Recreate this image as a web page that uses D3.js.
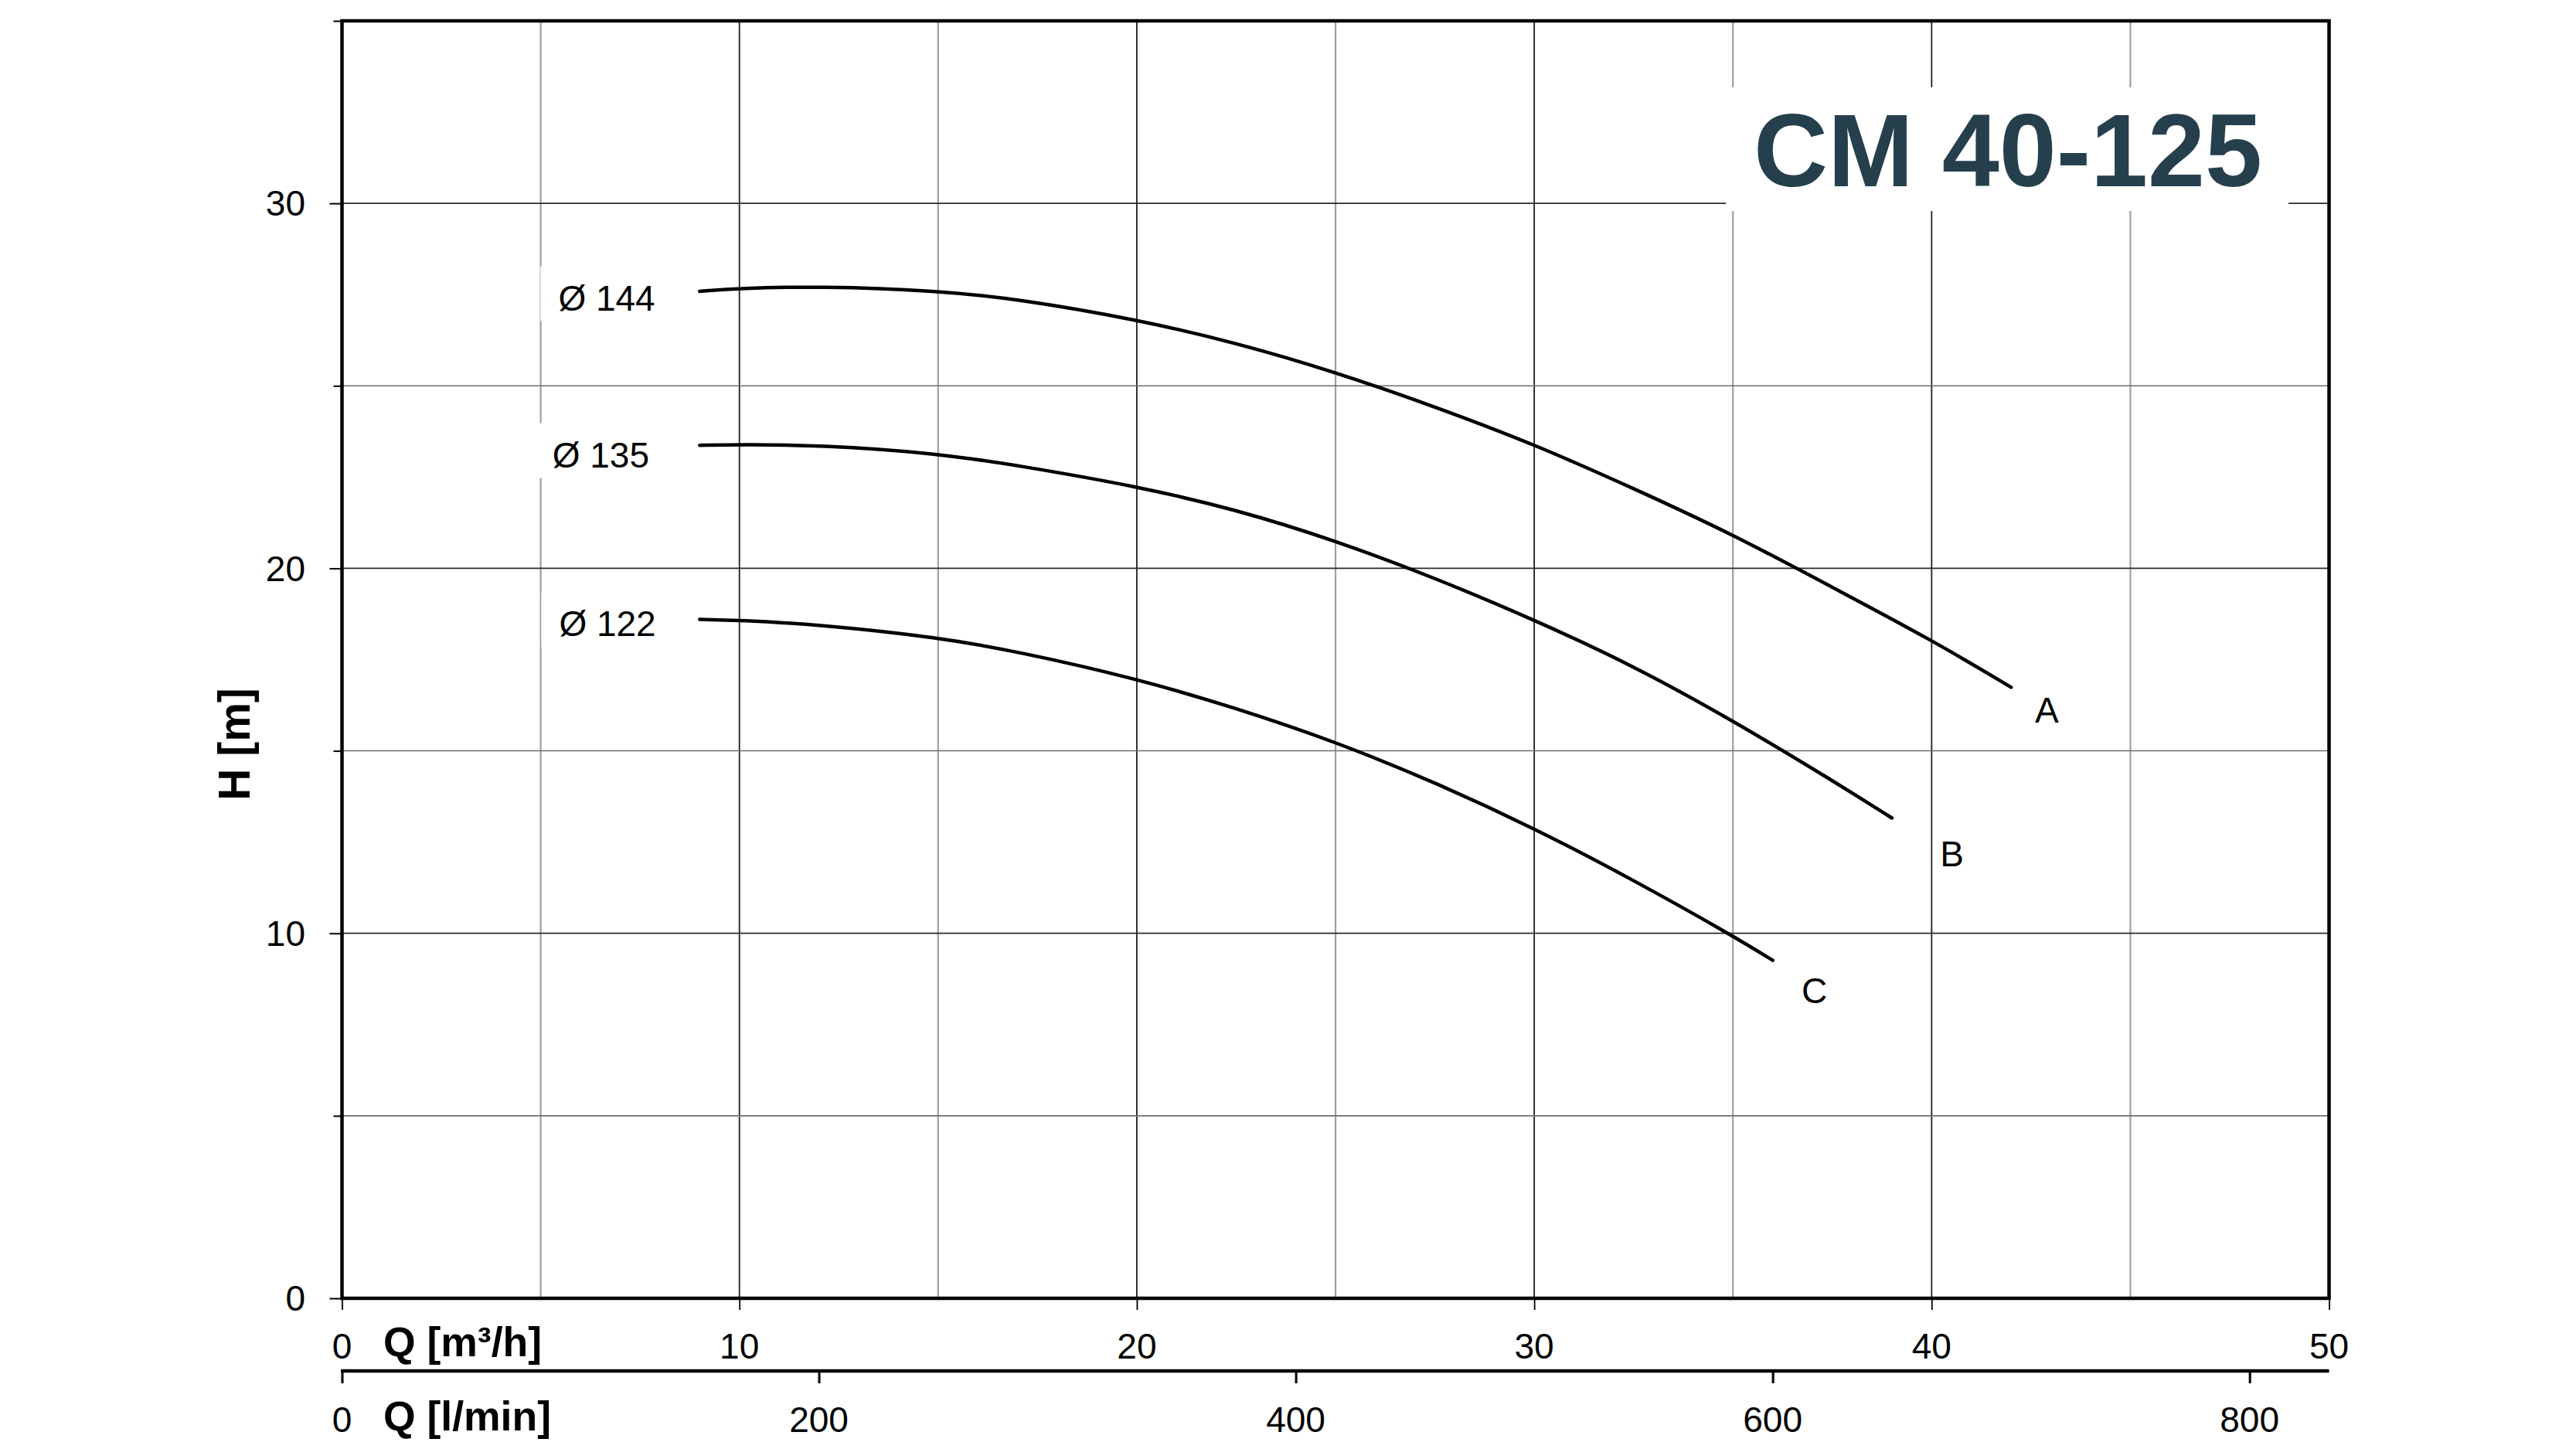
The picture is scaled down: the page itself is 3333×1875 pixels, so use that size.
<!DOCTYPE html>
<html><head><meta charset="utf-8">
<script src="https://cdn.jsdelivr.net/npm/d3@7"></script>
<style>html,body{margin:0;padding:0;background:#fff;} svg{display:block;}</style>
</head><body>
<svg id="chart" width="3333" height="1875"></svg>
<script>
// ---------- data ----------
const title = "CM 40-125";
const yLabel = "H [m]";
const xLabel = "Q [m³/h]";
const x2Label = "Q [l/min]";

const yTicks = [0, 5, 10, 15, 20, 25, 30, 35];
const yTickLabels = [0, 10, 20, 30];
const xTicks = [0, 5, 10, 15, 20, 25, 30, 35, 40, 45, 50];
const xTickLabels = [0, 10, 20, 30, 40, 50];
const lpmTicks = [0, 200, 400, 600, 800];

const curveNames = ["A", "B", "C"];
const diameters = ["Ø 144", "Ø 135", "Ø 122"];

// Q [m3/h] and H [m]
const qA = [9, 10, 12, 15, 17, 20, 22.5, 25, 27.5, 30, 32.5, 35, 37.5, 40, 42];
const hA = [27.59, 27.67, 27.73, 27.61, 27.38, 26.82, 26.18, 25.38, 24.43, 23.40, 22.19, 20.93, 19.48, 18.04, 16.74];
const qB = [9, 10, 12, 15, 17, 20, 22.5, 25, 27.5, 30, 32.5, 35, 37.5, 39];
const hB = [23.37, 23.39, 23.38, 23.15, 22.82, 22.25, 21.61, 20.76, 19.74, 18.59, 17.33, 15.83, 14.19, 13.16];
const qC = [9, 10, 12, 15, 17, 20, 22.5, 25, 27.5, 30, 32.5, 35, 36];
const hC = [18.60, 18.58, 18.46, 18.11, 17.72, 16.98, 16.17, 15.25, 14.14, 12.88, 11.46, 9.93, 9.26];

// annotation anchors (data units)
const diaLabelQ = [7.88, 7.73, 7.90];
const diaLabelH = [27.07, 22.77, 18.14];
const endLabelQ = [42.90, 40.51, 37.05];
const endLabelH = [15.78, 11.84, 8.08];

// ---------- layout ----------
const W = 3333, H = 1875;
const pLeft = 442.5, pRight = 3013.5, pTop = 27, pBottom = 1680;
const FONT = "'Liberation Sans', Arial, Helvetica, sans-serif";

const x = d3.scaleLinear().domain([0, 50]).range([pLeft, pRight]);
const y = d3.scaleLinear().domain([0, 35]).range([pBottom, pTop]);
const xl = d3.scaleLinear().domain([0, 50 * 1000 / 60]).range([pLeft, pRight]);

const svg = d3.select("#chart");
svg.append("rect").attr("width", W).attr("height", H).attr("fill", "#fff");

// ---------- grid ----------
const grid = svg.append("g");
grid.selectAll("line.vx").data(xTicks.slice(1, -1)).enter().append("line")
  .attr("x1", d => x(d)).attr("x2", d => x(d)).attr("y1", pTop).attr("y2", pBottom)
  .attr("stroke", d => d % 10 === 0 ? "#1e1e1e" : "#a0a0a0")
  .attr("stroke-width", d => d % 10 === 0 ? 1.8 : 2.2);
grid.selectAll("line.hy").data(yTicks.slice(1, -1)).enter().append("line")
  .attr("x1", pLeft).attr("x2", pRight).attr("y1", d => y(d)).attr("y2", d => y(d))
  .attr("stroke", d => d % 10 === 0 ? "#2a2a2a" : "#6e6e6e")
  .attr("stroke-width", d => d % 10 === 0 ? 1.8 : 1.6);

// ---------- title ----------
svg.append("rect").attr("x", 2233).attr("y", 113).attr("width", 728).attr("height", 160).attr("fill", "#fff");
svg.append("text").attr("x", 2598).attr("y", 241).attr("text-anchor", "middle")
  .attr("font-family", FONT).attr("font-weight", "bold").attr("font-size", 133)
  .attr("fill", "#253f4d").text(title);

// ---------- diameter labels with white boxes ----------
const series = [
  {q: qA, h: hA}, {q: qB, h: hB}, {q: qC, h: hC}
];
const dl = svg.append("g");
diameters.forEach((t, i) => {
  const tx = x(diaLabelQ[i]), ty = y(diaLabelH[i]);
  const txt = dl.append("text").attr("x", tx).attr("y", ty).attr("text-anchor", "end")
    .attr("font-family", FONT).attr("font-size", 46).attr("fill", "#000").text(t);
  const bb = txt.node().getBBox();
  dl.insert("rect", "text").attr("x", bb.x - 23).attr("y", ty - 57)
    .attr("width", bb.width + 33).attr("height", 71).attr("fill", "#fff");
});

// ---------- curves ----------
const line = d3.line().x(d => x(d[0])).y(d => y(d[1])).curve(d3.curveBasis);
svg.append("g").selectAll("path").data(series).enter().append("path")
  .attr("d", s => line(s.q.map((q, j) => [q, s.h[j]])))
  .attr("fill", "none").attr("stroke", "#000").attr("stroke-width", 4.5)
  .attr("stroke-linecap", "round").attr("stroke-linejoin", "round");

svg.append("g").selectAll("text").data(curveNames).enter().append("text")
  .attr("x", (d, i) => x(endLabelQ[i])).attr("y", (d, i) => y(endLabelH[i]))
  .attr("text-anchor", "middle").attr("font-family", FONT).attr("font-size", 46)
  .attr("fill", "#000").text(d => d);

// ---------- axes ----------
function styleAxis(g) {
  g.attr("font-family", FONT);
  g.select(".domain").remove();
}
// y axis
const yAxis = svg.append("g").attr("transform", `translate(${pLeft},0)`)
  .call(d3.axisLeft(y).tickValues(yTicks).tickSize(0).tickFormat(""));
styleAxis(yAxis);
yAxis.selectAll(".tick line").attr("x2", d => d % 10 === 0 ? -16 : -11)
  .attr("stroke", "#000").attr("stroke-width", 2);
svg.append("g").selectAll("text").data(yTickLabels).enter().append("text")
  .attr("x", 395).attr("y", d => y(d)).attr("dy", "0.35em").attr("text-anchor", "end")
  .attr("font-family", FONT).attr("font-size", 46).attr("fill", "#000").text(d => d);

// x axis (m3/h)
const xAxis = svg.append("g").attr("transform", `translate(0,${pBottom})`)
  .call(d3.axisBottom(x).tickValues(xTickLabels).tickSize(15).tickFormat(""));
styleAxis(xAxis);
xAxis.selectAll(".tick line").attr("stroke", "#000").attr("stroke-width", 1.8);
svg.append("g").selectAll("text").data(xTickLabels).enter().append("text")
  .attr("x", d => x(d)).attr("y", 1758).attr("text-anchor", "middle")
  .attr("font-family", FONT).attr("font-size", 46).attr("fill", "#000").text(d => d);

// second x axis (l/min)
svg.append("line").attr("x1", pLeft - 1.5).attr("x2", pRight).attr("y1", 1774).attr("y2", 1774)
  .attr("stroke", "#000").attr("stroke-width", 4.5);
const x2Axis = svg.append("g").attr("transform", `translate(0,1776)`)
  .call(d3.axisBottom(xl).tickValues(lpmTicks).tickSize(14).tickFormat(""));
styleAxis(x2Axis);
x2Axis.selectAll(".tick line").attr("stroke", "#000").attr("stroke-width", 3);
svg.append("g").selectAll("text").data(lpmTicks).enter().append("text")
  .attr("x", d => xl(d)).attr("y", 1853).attr("text-anchor", "middle")
  .attr("font-family", FONT).attr("font-size", 46).attr("fill", "#000").text(d => d);

// frame
svg.append("rect").attr("x", pLeft).attr("y", pTop).attr("width", pRight - pLeft).attr("height", pBottom - pTop)
  .attr("fill", "none").attr("stroke", "#000").attr("stroke-width", 4.5);

// axis titles
svg.append("text").attr("x", 496).attr("y", 1755)
  .attr("font-family", FONT).attr("font-weight", "bold").attr("font-size", 53.5).attr("fill", "#000")
  .text(xLabel);
svg.append("text").attr("x", 496).attr("y", 1851)
  .attr("font-family", FONT).attr("font-weight", "bold").attr("font-size", 53.5).attr("fill", "#000")
  .text(x2Label);
svg.append("text").attr("transform", "translate(323,963) rotate(-90)").attr("text-anchor", "middle")
  .attr("font-family", FONT).attr("font-weight", "bold").attr("font-size", 57).attr("fill", "#000")
  .text(yLabel);
</script>
</body></html>
